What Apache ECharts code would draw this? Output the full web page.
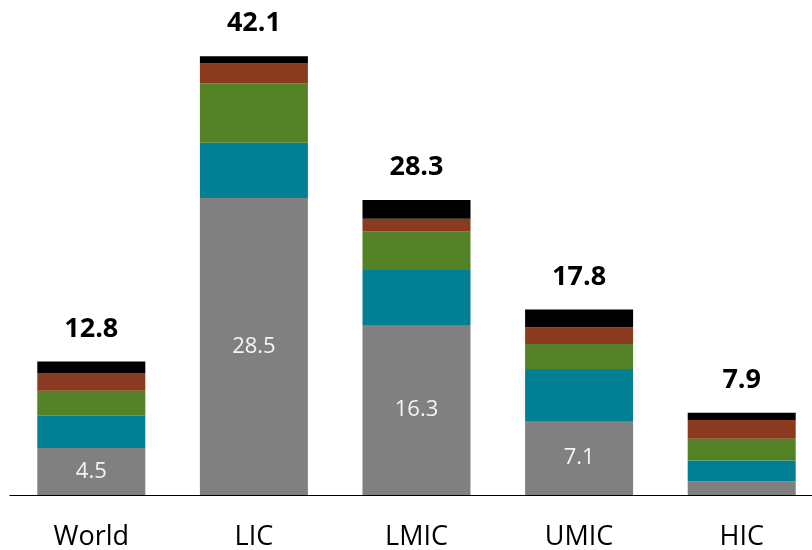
<!DOCTYPE html>
<html>
<head>
<meta charset="utf-8">
<script src="https://cdn.jsdelivr.net/npm/echarts@6/dist/echarts.min.js"></script>
<style>html,body{margin:0;padding:0;background:#fff}#c{width:812px;height:550px}</style>
</head>
<body>
<div id="c"></div>
<script>
var categories = ['World', 'LIC', 'LMIC', 'UMIC', 'HIC'];
var seg1 = [4.5, 28.5, 16.3, 7.1, 1.3];   // gray
var seg2 = [3.1, 5.3, 5.3, 5.0, 2.0];     // teal
var seg3 = [2.4, 5.7, 3.7, 2.4, 2.1];     // green
var seg4 = [1.7, 1.9, 1.2, 1.6, 1.8];     // brown
var seg5 = [1.1, 0.7, 1.8, 1.7, 0.7];     // black
var totals = [12.8, 42.1, 28.3, 17.8, 7.9];
var innerLabels = ['4.5', '28.5', '16.3', '7.1', ''];

var FONT = '"Open Sans", "Noto Sans", sans-serif';
var chart = echarts.init(document.getElementById('c'), null, {renderer: 'canvas'});
function s(data, color, extra) {
  var o = {
    type: 'bar', stack: 'a', data: data, barWidth: 108,
    itemStyle: {color: color},
    emphasis: {disabled: true},
    animation: false
  };
  for (var k in extra) o[k] = extra[k];
  return o;
}
chart.setOption({
  animation: false,
  grid: {left: 10, width: 813, top: 26, height: 469, outerBoundsMode: 'none', containLabel: false},
  xAxis: {
    type: 'category', data: categories,
    axisLine: {lineStyle: {color: '#000', width: 1.2}},
    axisTick: {show: false},
    axisLabel: {color: '#000', fontFamily: FONT, fontSize: 27, margin: 29}
  },
  yAxis: {type: 'value', min: 0, max: 45, show: false, splitLine: {show: false}},
  series: [
    s(seg1, '#808080', {label: {show: true, position: 'inside', color: '#f4f4f4', fontFamily: FONT, fontSize: 22,
      formatter: function (p) { return innerLabels[p.dataIndex]; }}}),
    s(seg2, '#017f93'),
    s(seg3, '#538126'),
    s(seg4, '#8a3b1f'),
    s(seg5, '#000000', {label: {show: true, position: 'top', distance: 19, color: '#000', fontFamily: FONT, fontSize: 27, fontWeight: 'bold',
      formatter: function (p) { return totals[p.dataIndex].toFixed(1); }}})
  ]
});
</script>
</body>
</html>
